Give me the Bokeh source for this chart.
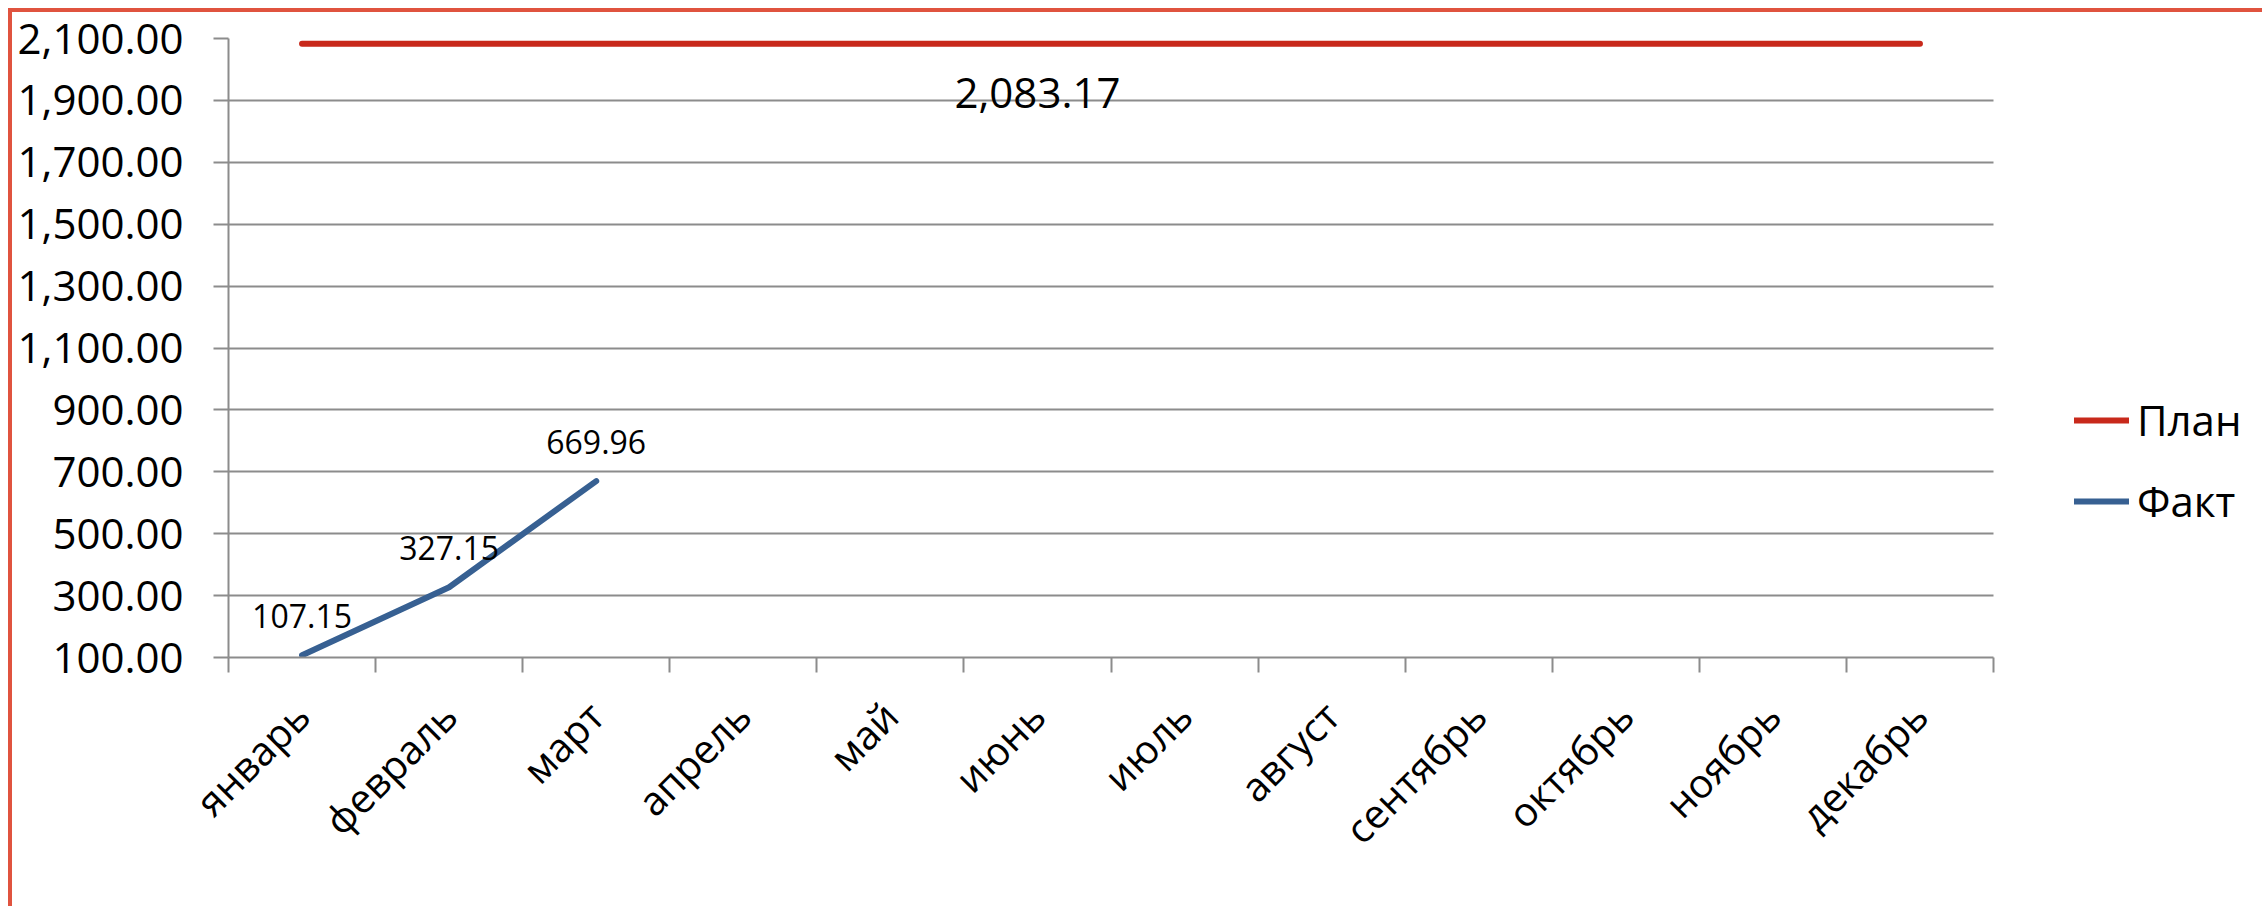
import math
from bokeh.plotting import figure
from bokeh.models import (FixedTicker, NumeralTickFormatter, Range1d, LabelSet, Label,
                          ColumnDataSource, Legend, LegendItem, CustomJSTickFormatter)
from bokeh.core.properties import value
from bokeh.embed import file_html
from bokeh.resources import INLINE

months = ["январь", "февраль", "март", "апрель", "май", "июнь",
          "июль", "август", "сентябрь", "октябрь", "ноябрь", "декабрь"]
plan = [2083.17, 2083.17, 2083.17, 2083.17, 2083.17, 2083.17,
        2083.17, 2083.17, 2083.17, 2083.17, 2083.17, 2083.17]
fact = [107.15, 327.15, 669.96]
y_ticks = [100, 300, 500, 700, 900, 1100, 1300, 1500, 1700, 1900, 2100]
plan_label_index = 5

RED = "#C8291B"
BLUE = "#376092"
GRID = "#8C8C8C"
FRAME_RED = "#E0533F"
FONT = "Open Sans"

W, H = 2254, 898
LEFT, TOP, BOTTOM = 220, 30, 249
AXIS_END_PX = 1985  # canvas px where the category axis ends
n = len(months)
xc = [i + 0.5 for i in range(n)]
x_end = n * (W - LEFT) / (AXIS_END_PX - LEFT)

p = figure(width=W, height=H, x_range=Range1d(0, x_end), y_range=Range1d(100, 2100),
           output_backend="svg", toolbar_location=None,
           min_border_left=LEFT, min_border_right=0, min_border_top=TOP, min_border_bottom=BOTTOM)
p.outline_line_color = None
p.border_fill_color = None
p.background_fill_color = "white"
p.styles = {
    "margin-left": "8px", "margin-top": "8px",
    "background": (f"linear-gradient({FRAME_RED},{FRAME_RED}) left top / 100% 4px no-repeat, "
                   f"linear-gradient({FRAME_RED},{FRAME_RED}) left top / 4px 100% no-repeat, white"),
}

p.xgrid.visible = False
p.ygrid.grid_line_color = GRID
p.ygrid.grid_line_width = 2
p.ygrid.ticker = FixedTicker(ticks=y_ticks)
p.ygrid.cross_bounds = (0, n)

ya = p.yaxis[0]
ya.ticker = FixedTicker(ticks=y_ticks)
ya.formatter = NumeralTickFormatter(format="0,0.00")
ya.major_label_text_font = FONT
ya.major_label_text_font_size = "42px"
ya.major_label_text_color = "black"
ya.axis_line_color = GRID
ya.axis_line_width = 2
ya.major_tick_line_color = GRID
ya.major_tick_line_width = 2
ya.major_tick_out = 15
ya.major_tick_in = 0
ya.minor_tick_line_color = None
ya.major_label_standoff = 30

xa = p.xaxis[0]
xa.bounds = (0, n)
xa.ticker = FixedTicker(ticks=xc, minor_ticks=list(range(n + 1)))
xa.formatter = CustomJSTickFormatter(args=dict(months=months),
                                     code="return months[Math.round(tick - 0.5)];")
xa.major_label_orientation = math.pi / 4
xa.major_label_text_font = FONT
xa.major_label_text_font_size = "40px"
xa.major_label_text_color = "black"
xa.axis_line_color = GRID
xa.axis_line_width = 2
xa.major_tick_line_color = None
xa.major_tick_out = 0
xa.major_tick_in = 0
xa.minor_tick_line_color = GRID
xa.minor_tick_line_width = 2
xa.minor_tick_out = 15
xa.minor_tick_in = 0
xa.major_label_standoff = 36

r_plan = p.line(xc, plan, line_color=RED, line_width=6, line_cap="round")
r_fact = p.line(xc[:len(fact)], fact, line_color=BLUE, line_width=6, line_cap="round",
                line_join="round")

fact_src = ColumnDataSource(dict(x=xc[:len(fact)], y=fact, t=[f"{v:,.2f}" for v in fact]))
p.add_layout(LabelSet(x="x", y="y", text="t", source=fact_src, text_align="center",
                      text_baseline="middle", y_offset=39, text_font=value(FONT),
                      text_font_size=value("32px"), text_color="black"))

p.add_layout(Label(x=xc[plan_label_index], y=plan[plan_label_index],
                   text=f"{plan[plan_label_index]:,.2f}", text_align="center",
                   text_baseline="middle", y_offset=-49, text_font=FONT,
                   text_font_size="42px", text_color="black"))

legend = Legend(items=[LegendItem(label="План", renderers=[r_plan]),
                       LegendItem(label="Факт", renderers=[r_fact])],
                location=(1846, 128), label_text_font=FONT, label_text_font_size="42px",
                label_text_color="black", glyph_width=55, glyph_height=50, label_height=50,
                label_standoff=8, spacing=24, padding=0, margin=0,
                border_line_color=None, background_fill_alpha=0)
p.add_layout(legend)

open("out.html", "w").write(file_html(p, INLINE))
